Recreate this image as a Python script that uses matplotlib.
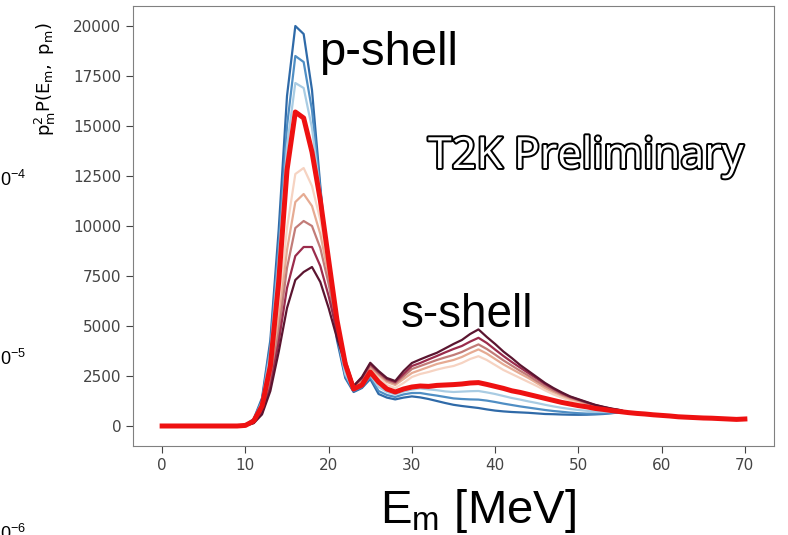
import numpy as np
import matplotlib
matplotlib.use("Agg")
from matplotlib import pyplot as plt
from matplotlib import patheffects

# missing energy grid [MeV]
energy = np.arange(0, 71)

# values shared by every curve: flat below 10 MeV and merged tail above 55 MeV
head = [0, 0, 0, 0, 0, 0, 0, 0, 0, 0]
tail = [670, 630, 600, 560, 530, 500, 460, 440, 420, 400, 390, 370, 350, 330, 350]

# 10..55 MeV, one list per curve
c0 = [40, 350, 1400, 4300, 9800, 16500, 20000, 19600, 16800, 12000, 7500, 4300, 2400, 1700, 1900, 2350,
      1600, 1420, 1330, 1420, 1480, 1430, 1350, 1250, 1150, 1060, 1000, 950, 900, 830, 770, 730, 700,
      680, 660, 630, 600, 590, 575, 565, 560, 565, 580, 600, 640, 680]
c1 = [40, 330, 1300, 4000, 9000, 15000, 18500, 18200, 15800, 11800, 7600, 4500, 2500, 1750, 1950, 2450,
      1750, 1550, 1450, 1580, 1650, 1650, 1580, 1520, 1450, 1380, 1350, 1330, 1320, 1270, 1200, 1120,
      1050, 980, 920, 860, 800, 750, 710, 670, 640, 620, 620, 630, 650, 690]
c2 = [35, 300, 1200, 3700, 8400, 14000, 17150, 16900, 14900, 11600, 7700, 4700, 2600, 1800, 2000, 2550,
      1950, 1700, 1580, 1720, 1820, 1880, 1830, 1790, 1730, 1700, 1720, 1740, 1750, 1680, 1600, 1500,
      1400, 1320, 1230, 1150, 1060, 980, 910, 850, 800, 760, 730, 710, 700, 710]
c4 = [25, 220, 850, 2600, 5800, 9900, 12600, 12900, 12000, 10300, 7800, 5200, 3200, 1900, 2150, 2850,
      2400, 2050, 1900, 2150, 2450, 2600, 2700, 2820, 2920, 3000, 3150, 3350, 3490, 3300, 3050, 2800,
      2600, 2400, 2200, 2000, 1780, 1580, 1420, 1280, 1180, 1060, 960, 880, 810, 750]
c5 = [22, 200, 780, 2350, 5200, 8800, 11200, 11600, 11000, 9600, 7500, 5200, 3300, 1950, 2250, 2950,
      2550, 2200, 2050, 2350, 2650, 2800, 2950, 3100, 3200, 3300, 3450, 3650, 3830, 3620, 3350, 3080,
      2850, 2620, 2400, 2150, 1900, 1700, 1520, 1360, 1250, 1120, 1010, 920, 840, 770]
c6 = [20, 180, 720, 2150, 4700, 7900, 9900, 10250, 10000, 8900, 7100, 5000, 3300, 2000, 2350, 3020,
      2620, 2280, 2130, 2480, 2850, 3000, 3150, 3300, 3430, 3550, 3700, 3900, 4080, 3850, 3570, 3280,
      3020, 2760, 2520, 2250, 2000, 1780, 1580, 1420, 1290, 1150, 1030, 940, 850, 780]
c7 = [18, 160, 650, 1950, 4200, 6900, 8500, 8950, 8950, 8000, 6500, 4700, 3200, 2000, 2400, 3100,
      2700, 2350, 2200, 2600, 3000, 3150, 3330, 3500, 3680, 3850, 4000, 4220, 4410, 4150, 3820, 3500,
      3200, 2920, 2650, 2380, 2100, 1860, 1640, 1460, 1320, 1180, 1050, 950, 860, 790]
c8 = [15, 140, 580, 1750, 3700, 5900, 7300, 7700, 7950, 7200, 5900, 4400, 3100, 2000, 2450, 3160,
      2750, 2400, 2250, 2750, 3150, 3330, 3500, 3660, 3880, 4100, 4300, 4600, 4830, 4450, 4100, 3720,
      3400, 3050, 2750, 2450, 2150, 1900, 1680, 1480, 1340, 1200, 1060, 960, 870, 800]
nominal = [30, 250, 1000, 3000, 7200, 12800, 15700, 15400, 13700, 11300, 8300, 5300, 3100, 1850, 2050, 2700,
           2200, 1850, 1700, 1850, 1950, 2000, 1980, 2030, 2050, 2070, 2100, 2150, 2170, 2080, 1980, 1880,
           1760, 1680, 1580, 1480, 1380, 1280, 1180, 1100, 1020, 960, 880, 830, 770, 720]

curves = [c0, c1, c2, c4, c5, c6, c7, c8]
colours = ['#2f6aa8', '#4f8ec4', '#a9cce3', '#f6d3c2', '#e6ab93', '#c27c78', '#9b2c4c', '#5b1530']

fig = plt.figure(figsize=(7.88, 5.35), dpi=100)
ax = fig.add_axes([133 / 788, 89 / 535, 641 / 788, 440 / 535])

for vals, col in zip(curves, colours):
    ax.plot(energy, head + vals + tail, color=col, lw=1.6)
ax.plot(energy, head + nominal + tail, color='#ee1111', lw=3.6)

ax.set_xlim(-3.5, 73.5)
ax.set_ylim(-1000, 21000)
ax.set_xticks(range(0, 71, 10))
ax.set_yticks(range(0, 20001, 2500))
ax.tick_params(labelsize=11, colors='#444444', length=5)
for s in ax.spines.values():
    s.set_color('#808080')

ax.text(18.8, 18050, 'p-shell', fontsize=34, family='Liberation Sans', ha='left', va='baseline')
ax.text(28.6, 4930, 's-shell', fontsize=33, family='Liberation Sans', ha='left', va='baseline')

fig.text(428 / 788, 1 - 168 / 535, 'T2K Preliminary', fontsize=31, family='Open Sans',
         color='white', ha='left', va='baseline',
         path_effects=[patheffects.withStroke(linewidth=2.8, foreground='black')])

fig.text(478 / 788, 1 - 523 / 535, r'$\mathregular{E_m}$ [MeV]', fontsize=34,
         family='Liberation Sans', ha='center', va='baseline')
fig.text(45 / 788, 1 - 79 / 535, r'$\mathregular{p_m^2P(E_m,\ p_m)}$', fontsize=13,
         rotation=90, ha='center', va='center')

# remnants of a neighbouring plot's log axis on the left edge
fig.text(0, 1 - 186 / 535, r'$\mathregular{0^{-4}}$', fontsize=13, family='Liberation Sans', va='baseline')
fig.text(0, 1 - 365 / 535, r'$\mathregular{0^{-5}}$', fontsize=13, family='Liberation Sans', va='baseline')
fig.text(0, 1 - 540 / 535, r'$\mathregular{0^{-6}}$', fontsize=13, family='Liberation Sans', va='baseline')

fig.savefig('out.png', dpi=100)
